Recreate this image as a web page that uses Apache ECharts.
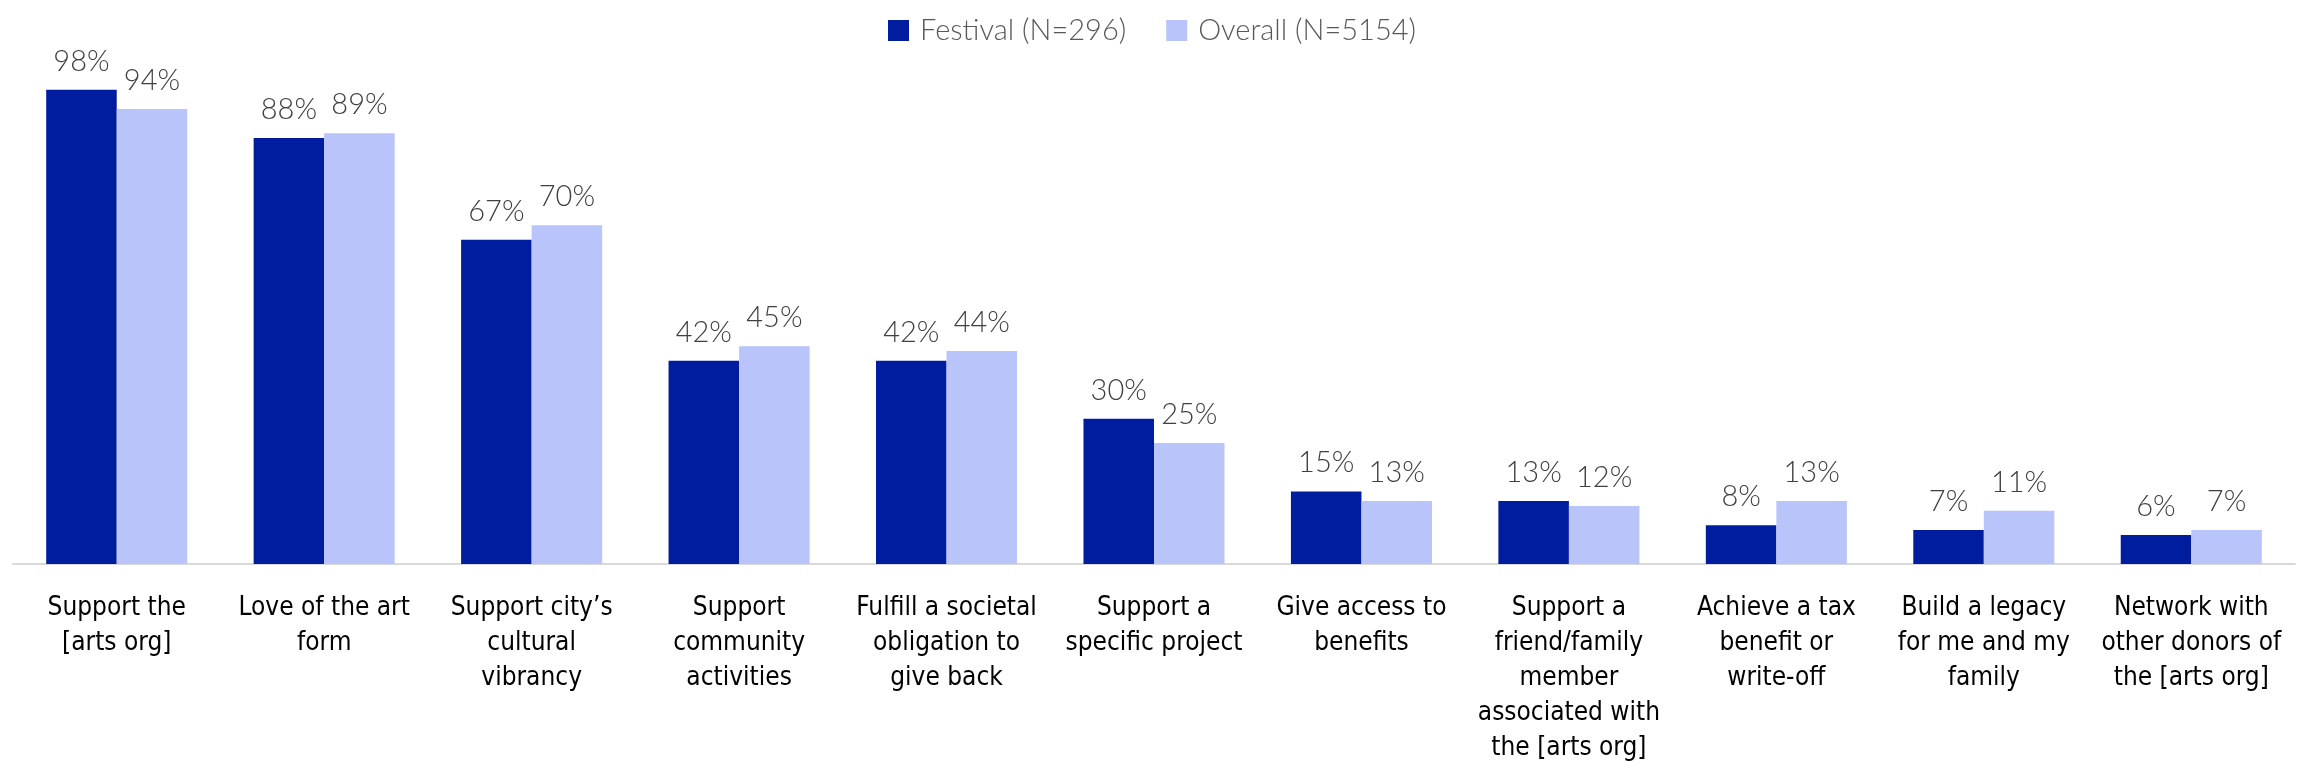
<!DOCTYPE html>
<html>
<head>
<meta charset="utf-8">
<script src="https://cdn.jsdelivr.net/npm/echarts@6/dist/echarts.min.js"></script>
<style>
  html, body { margin: 0; padding: 0; background: #fff; }
  #chart { width: 2297px; height: 766px; }
</style>
</head>
<body>
<div id="chart"></div>
<script>
// reasons for giving
var categories = [
  'Support the\n[arts org]',
  'Love of the art\nform',
  'Support city’s\ncultural\nvibrancy',
  'Support\ncommunity\nactivities',
  'Fulfill a societal\nobligation to\ngive back',
  'Support a\nspecific project',
  'Give access to\nbenefits',
  'Support a\nfriend/family\nmember\nassociated with\nthe [arts org]',
  'Achieve a tax\nbenefit or\nwrite-off',
  'Build a legacy\nfor me and my\nfamily',
  'Network with\nother donors of\nthe [arts org]'
];
var festival = [98, 88, 67, 42, 42, 30, 15, 13, 8, 7, 6];
var overall = [94, 89, 70, 45, 44, 25, 13, 12, 13, 11, 7];
var seriesNames = ['Festival (N=296)', 'Overall (N=5154)'];

var chart = echarts.init(document.getElementById('chart'));

var valueLabel = {
  show: true,
  position: 'top',
  distance: 14,
  formatter: '{c}%',
  fontFamily: 'Lato, "Open Sans", sans-serif',
  fontWeight: 300,
  fontSize: 29,
  color: '#404040'
};

chart.setOption({
  animation: false,
  color: ['#001c9f', '#b9c4fb'],
  legend: {
    left: 883,
    top: 11,
    icon: 'rect',
    itemWidth: 21,
    itemHeight: 21,
    itemGap: 40,
    textStyle: {
      fontFamily: 'Lato, "Open Sans", sans-serif',
      fontWeight: 300,
      fontSize: 29,
      color: '#595959',
      padding: [0, 0, 0, 6]
    },
    data: seriesNames
  },
  grid: { left: 13, right: 2, top: 80, bottom: 199, containLabel: false },
  xAxis: {
    type: 'category',
    data: categories,
    axisLine: { lineStyle: { color: '#d9d9d9', width: 2 } },
    axisTick: { show: false },
    axisLabel: {
      interval: 0,
      margin: 27,
      fontFamily: '"Liberation Sans Narrow", "DejaVu Sans Condensed", sans-serif',
      fontSize: 26,
      lineHeight: 35,
      color: '#000'
    }
  },
  yAxis: {
    type: 'value',
    min: 0,
    max: 100,
    show: false,
    splitLine: { show: false }
  },
  series: [
    {
      name: seriesNames[0],
      type: 'bar',
      data: festival,
      barGap: '0%',
      barCategoryGap: '32%',
      label: valueLabel
    },
    {
      name: seriesNames[1],
      type: 'bar',
      data: overall,
      barGap: '0%',
      barCategoryGap: '32%',
      label: valueLabel
    }
  ]
});
</script>
</body>
</html>
